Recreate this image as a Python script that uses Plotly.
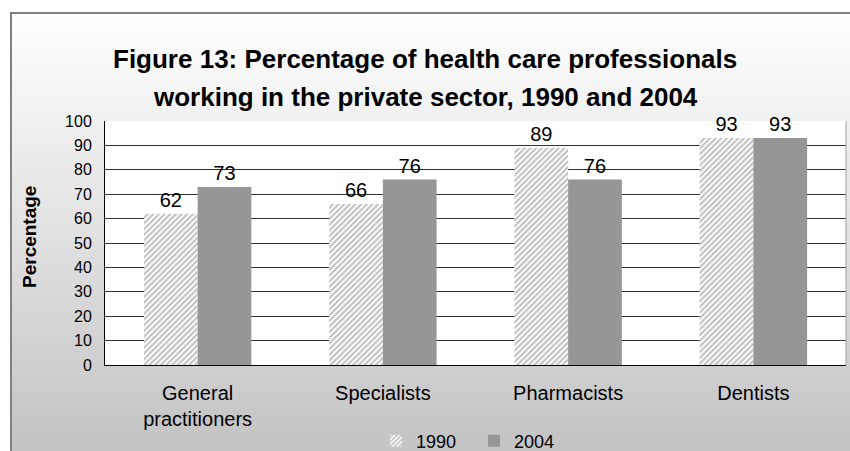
import plotly.graph_objects as go

categories = ["General<br>practitioners", "Specialists", "Pharmacists", "Dentists"]
values_1990 = [62, 66, 89, 93]
values_2004 = [73, 76, 76, 93]
y_ticks = list(range(0, 101, 10))
title_lines = ["Figure 13: Percentage of health care professionals",
               "working in the private sector, 1990 and 2004"]

W, H = 850, 451
L, R, T, B = 105, 4, 121, 86
plot_w = W - L - R
plot_h = H - T - B
FONT = "Arial, Liberation Sans, sans-serif"


def px_x(x):
    return (x - L) / plot_w


def px_y(y):
    return (H - B - y) / plot_h


fig = go.Figure()
fig.add_trace(go.Bar(
    name="1990", x=categories, y=values_1990,
    text=values_1990, textposition="outside",
    textfont=dict(size=20, color="black", family=FONT),
    marker=dict(color="white", line=dict(width=0),
                pattern=dict(shape="/", fgcolor="#7c7c7c", bgcolor="white",
                             size=4, solidity=0.5)),
    cliponaxis=False,
))
fig.add_trace(go.Bar(
    name="2004", x=categories, y=values_2004,
    text=values_2004, textposition="outside",
    textfont=dict(size=20, color="black", family=FONT),
    marker=dict(color="#969696", line=dict(width=0)),
    cliponaxis=False,
))

# gradient chart-area background inside the outer frame
shapes = []
top_px, bot_px, left_px = 13, H, 11
n = 90
for i in range(n):
    y0 = top_px + (bot_px - top_px) * i / n
    y1 = top_px + (bot_px - top_px) * (i + 1) / n + 0.5
    t = (i + 0.5) / n
    g = int(round(255 - t * (255 - 195)))
    shapes.append(dict(type="rect", xref="paper", yref="paper", layer="below",
                       x0=px_x(left_px), x1=px_x(W + 5), y0=px_y(y0), y1=px_y(y1),
                       fillcolor=f"rgb({g},{g},{g})", line=dict(width=0)))
# frame border
shapes.append(dict(type="path", xref="paper", yref="paper", layer="below",
                   path=f"M {px_x(left_px)},{px_y(H + 5)} L {px_x(left_px)},{px_y(top_px)} L {px_x(W + 5)},{px_y(top_px)}",
                   line=dict(color="#808080", width=2)))
# white plot area
shapes.append(dict(type="rect", xref="paper", yref="paper", layer="below",
                   x0=0, x1=1, y0=0, y1=1, fillcolor="white",
                   line=dict(width=0)))
# right edge of plot area
shapes.append(dict(type="line", xref="paper", yref="paper", layer="above",
                   x0=1, x1=1, y0=0, y1=1, line=dict(color="#a0a0a0", width=1)))

annotations = [dict(text="<b>Percentage</b>", textangle=-90,
                    xref="paper", yref="paper", x=px_x(29), y=px_y(237),
                    xanchor="center", yanchor="middle", showarrow=False,
                    font=dict(size=19, color="black"))]
# two-line chart title with wide line spacing
for line, cy in zip(title_lines, [59, 97]):
    annotations.append(dict(text=f"<b>{line}</b>", xref="paper", yref="paper",
                            x=px_x(425), y=px_y(cy), xanchor="center",
                            yanchor="middle", showarrow=False,
                            font=dict(size=26, family=FONT, color="black")))

fig.update_layout(
    width=W, height=H,
    margin=dict(l=L, r=R, t=T, b=B, autoexpand=False),
    paper_bgcolor="white",
    plot_bgcolor="rgba(0,0,0,0)",
    font=dict(family=FONT, size=16, color="black"),
    barmode="group", bargap=0.42, bargroupgap=0,
    shapes=shapes,
    xaxis=dict(showgrid=False, showline=True, linecolor="black", linewidth=1,
               ticks="", tickfont=dict(size=20), fixedrange=True,
               automargin=False, ticklabelstandoff=10),
    yaxis=dict(range=[0, 100], tickvals=y_ticks, showgrid=True,
               gridcolor="#303030", gridwidth=1, showline=True,
               linecolor="black", linewidth=1, ticks="",
               tickfont=dict(size=16), zeroline=False, fixedrange=True,
               automargin=False, ticklabelstandoff=9),
    legend=dict(orientation="h", x=px_x(376), xanchor="left", y=px_y(441),
                yanchor="middle", bgcolor="rgba(0,0,0,0)",
                font=dict(size=18), itemwidth=30, entrywidth=53,
                entrywidthmode="pixels"),
    showlegend=True,
    annotations=annotations,
)

fig.write_html("out.html")
